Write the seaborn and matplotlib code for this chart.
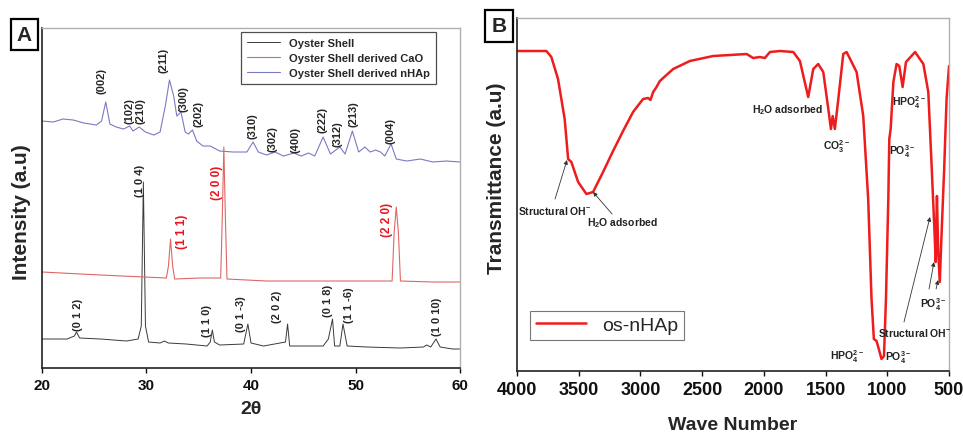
import matplotlib
matplotlib.use("Agg")
import matplotlib.pyplot as plt
import seaborn as sns
import pandas as pd

# ---- panel A: XRD (2theta vs intensity, arbitrary units) ----
shell_2theta = [20, 22.4, 23.1, 23.3, 23.6, 25.6, 28.1, 29.2, 29.5, 29.7, 29.9, 30.2, 31.3, 31.7,
                32.1, 33.8, 35.8, 36.1, 36.3, 36.5, 37.0, 39.3, 39.7, 40.0, 41.2, 43.3, 43.5,
                43.7, 46.9, 47.4, 47.8, 48.0, 48.5, 48.8, 49.2, 51.1, 54.3, 56.5, 56.8, 57.2,
                57.7, 58.1, 58.7, 59.3, 60]
shell_int = [29, 29, 32, 36, 30, 29, 27, 29, 42, 186, 42, 26, 25, 27,
             25, 24, 22, 26, 38, 26, 23, 24, 44, 25, 22, 26, 44,
             22, 22, 29, 49, 22, 22, 44, 22, 21, 20, 21, 23, 21,
             29, 21, 20, 19, 19]

cao_2theta = [20, 25.6, 31.9, 32.1, 32.3, 32.5, 32.7, 35.1, 37.1, 37.25, 37.4, 37.55, 37.7,
              41.5, 47.9, 53.5, 53.7, 53.9, 54.1, 54.3, 57.4, 60]
cao_int = [96, 93, 90, 102, 129, 102, 89, 90, 90, 150, 221, 150, 89,
           87, 87, 87, 136, 161, 136, 87, 86, 86]

hap_2theta = [20, 21.1, 22.0, 23.0, 24.0, 25.2, 25.7, 26.1, 26.5, 27.1, 27.8, 28.4, 28.7, 29.3,
              29.9, 30.7, 31.3, 31.8, 32.2, 32.6, 32.9, 33.3, 33.7, 34.0, 34.4, 34.8, 35.4,
              36.1, 37.0, 38.3, 39.6, 40.2, 40.7, 41.5, 42.3, 43.1, 44.1, 44.8, 45.5, 46.1,
              46.9, 47.6, 48.5, 49.0, 49.7, 50.3, 50.9, 51.4, 51.9, 52.4, 52.8, 53.4, 53.9,
              54.9, 56.2, 57.4, 58.7, 60]
hap_int = [247, 246, 249, 248, 245, 243, 247, 266, 244, 241, 239, 242, 237, 241,
           236, 233, 236, 262, 288, 272, 252, 256, 236, 234, 238, 227, 222,
           222, 217, 216, 216, 226, 216, 213, 216, 212, 215, 212, 215, 212,
           231, 214, 221, 214, 237, 216, 221, 216, 218, 216, 212, 224, 209,
           207, 209, 206, 207, 206]

hap_labels = ["(002)", "(102)", "(210)", "(211)", "(300)", "(202)", "(310)", "(302)",
              "(400)", "(222)", "(312)", "(213)", "(004)"]
hap_label_x = [25.7, 28.4, 29.4, 31.6, 33.5, 35.0, 40.1, 42.1, 44.3, 46.8, 48.3, 49.8, 53.3]
hap_label_y = [275, 245, 245, 296, 257, 242, 230, 217, 216, 236, 222, 242, 225]

shell_labels = ["(1 0 4)", "(0 1 2)", "(1 1 0)", "(0 1 -3)", "(2 0 2)", "(0 1 8)",
                "(1 1 -6)", "(1 0 10)"]
shell_label_x = [29.4, 23.4, 35.8, 39.0, 42.5, 47.4, 49.4, 57.8]
shell_label_y = [172, 38, 32, 37, 46, 52, 46, 33]

cao_labels = ["(1 1 1)", "(2 0 0)", "(2 2 0)"]
cao_label_x = [33.4, 36.7, 53.0]
cao_label_y = [120, 169, 132]

# ---- panel B: FTIR ----
ftir_wn = [4000, 3762, 3722, 3668, 3614, 3586, 3560, 3505, 3438, 3384, 3303, 3222, 3141, 3060,
           2979, 2938, 2919, 2897, 2870, 2843, 2735, 2600, 2411, 2140, 2087, 2033, 1992, 1951,
           1870, 1762, 1708, 1641, 1600, 1560, 1519, 1478, 1457, 1443, 1425, 1397, 1357, 1330,
           1249, 1195, 1155, 1128, 1109, 1087, 1047, 1027, 1011, 992, 984, 973, 951, 925, 903,
           876, 849, 775, 708, 668, 641, 618, 608, 598, 588, 575, 560, 540, 520, 500]
ftir_t = [320, 320, 314, 292, 252, 212, 209, 189, 177, 179, 199, 220, 240, 259,
          272, 273, 271, 279, 284, 290, 302, 310, 315, 317, 313, 314, 313, 319,
          320, 319, 310, 274, 302, 307, 299, 262, 242, 255, 242, 272, 317, 319,
          299, 255, 172, 72, 32, 30, 12, 15, 72, 172, 232, 242, 289, 307, 305,
          284, 309, 319, 307, 279, 205, 140, 109, 175, 120, 89, 139, 200, 272, 305]

ftir_notes = [r"H$_2$O adsorbed", r"CO$_3^{2-}$", r"HPO$_4^{2-}$", r"PO$_4^{3-}$",
              r"Structural OH$^{-}$", r"H$_2$O adsorbed", r"HPO$_4^{2-}$", r"PO$_4^{3-}$",
              r"Structural OH$^{-}$", r"PO$_4^{3-}$"]
ftir_note_x = [1813, 1415, 824, 881, 3692, 3149, 1326, 913, 775, 630]
ftir_note_y = [262, 225, 269, 220, 161, 149, 15, 14, 39, 67]

# arrows: (from_x, from_y, to_x, to_y)
ftir_arrows = [(3692, 172, 3595, 211), (3230, 157, 3384, 179),
               (865, 49, 654, 154), (662, 82, 622, 109), (605, 82, 589, 91)]

sns.set_style("white")
plt.rcParams["font.family"] = ["Liberation Sans", "DejaVu Sans"]
plt.rcParams["mathtext.default"] = "regular"

fig = plt.figure(figsize=(9.63, 4.35), dpi=100)
axA = fig.add_axes([0.0436, 0.1517, 0.4341, 0.7816])
axB = fig.add_axes([0.5369, 0.1448, 0.4486, 0.8115])

xrd = pd.DataFrame({"t": shell_2theta, "i": shell_int})
sns.lineplot(data=xrd, x="t", y="i", ax=axA, color="#3a3a3a", lw=0.7, sort=False,
             label="Oyster Shell")
xrd = pd.DataFrame({"t": cao_2theta, "i": cao_int})
sns.lineplot(data=xrd, x="t", y="i", ax=axA, color="#e06666", lw=0.8, sort=False,
             label="Oyster Shell derived CaO")
xrd = pd.DataFrame({"t": hap_2theta, "i": hap_int})
sns.lineplot(data=xrd, x="t", y="i", ax=axA, color="#7a7ac4", lw=0.8, sort=False,
             label="Oyster Shell derived nHAp")

for txt, x, y in zip(hap_labels, hap_label_x, hap_label_y):
    axA.text(x, y, txt, rotation=90, ha="center", va="bottom", fontsize=8, fontweight="bold")
for txt, x, y in zip(shell_labels, shell_label_x, shell_label_y):
    axA.text(x, y, txt, rotation=90, ha="center", va="bottom", fontsize=8, fontweight="bold")
for txt, x, y in zip(cao_labels, cao_label_x, cao_label_y):
    axA.text(x, y, txt, rotation=90, ha="center", va="bottom", fontsize=8.5,
             fontweight="bold", color="#e8141e")

axA.set_xlim(20, 60)
axA.set_ylim(0, 340)
axA.set_xticks([20, 30, 40, 50, 60])
axA.set_yticks([])
axA.set_xlabel("2θ", fontsize=14, fontweight="bold")
axA.set_ylabel("Intensity (a.u)", fontsize=15, fontweight="bold")
axA.xaxis.set_label_coords(0.5, -0.095)
axA.yaxis.set_label_coords(-0.027, 0.46)
leg = axA.legend(loc="upper right", bbox_to_anchor=(0.943, 0.988), borderaxespad=0,
                 fontsize=8, frameon=True, fancybox=False, edgecolor="#222222",
                 handlelength=3.0, borderpad=0.55, labelspacing=0.45)
leg.get_frame().set_linewidth(0.9)
for t in leg.get_texts():
    t.set_fontweight("bold")

ftir = pd.DataFrame({"wn": ftir_wn, "t": ftir_t})
sns.lineplot(data=ftir, x="wn", y="t", ax=axB, color="#ee1c1c", lw=1.8, sort=False,
             label="os-nHAp")
for txt, x, y in zip(ftir_notes, ftir_note_x, ftir_note_y):
    axB.text(x, y, txt, ha="center", va="center", fontsize=7.5, fontweight="bold",
             color="#222222")
for x0, y0, x1, y1 in ftir_arrows:
    axB.annotate("", xy=(x1, y1), xytext=(x0, y0),
                 arrowprops=dict(arrowstyle="-|>", lw=0.6, color="#333333",
                                 mutation_scale=6, shrinkA=0, shrinkB=0))
axB.set_xlim(4000, 500)
axB.set_ylim(0, 353)
axB.set_xticks([4000, 3500, 3000, 2500, 2000, 1500, 1000, 500])
axB.set_yticks([])
axB.set_xlabel("Wave Number", fontsize=14, fontweight="bold")
axB.set_ylabel("Transmittance (a.u)", fontsize=15, fontweight="bold")
axB.xaxis.set_label_coords(0.5, -0.128)
axB.yaxis.set_label_coords(-0.026, 0.55)
legB = axB.legend(loc="lower left", bbox_to_anchor=(0.03, 0.088), borderaxespad=0,
                  fontsize=14, frameon=True, fancybox=False, edgecolor="#555555",
                  handlelength=2.6, borderpad=0.3)
legB.get_frame().set_linewidth(0.8)

for ax, size in ((axA, 11), (axB, 13)):
    for s in ("top", "right"):
        ax.spines[s].set_color("#b0b0b0")
        ax.spines[s].set_linewidth(1.0)
    for s in ("left", "bottom"):
        ax.spines[s].set_color("#222222")
        ax.spines[s].set_linewidth(1.2)
    ax.tick_params(axis="x", direction="out", length=3.5, width=1, pad=4,
                   bottom=True, labelsize=size, colors="#111111")
    for lab in ax.get_xticklabels():
        lab.set_fontweight("bold")

for letter, xpos, ypos in (("A", 0.0254, 0.918), ("B", 0.518, 0.938)):
    fig.text(xpos, ypos, letter, ha="center", va="center", fontsize=15, fontweight="bold",
             bbox=dict(boxstyle="square,pad=0.3", facecolor="white", edgecolor="black",
                       linewidth=1.6))

fig.savefig("out.png", dpi=100)
